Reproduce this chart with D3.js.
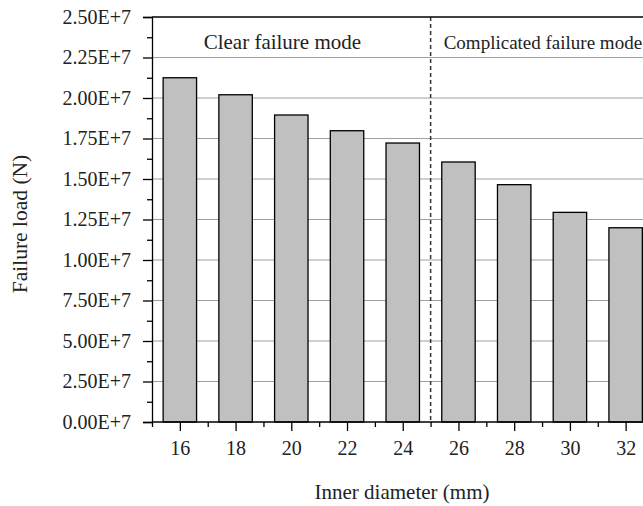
<!DOCTYPE html>
<html>
<head>
<meta charset="utf-8">
<script src="https://cdn.jsdelivr.net/npm/d3@7"></script>
<style>
  html, body { margin: 0; padding: 0; background: #fff; }
  svg { display: block; font-family: "Liberation Serif", "DejaVu Serif", serif; }
</style>
</head>
<body>
<script>
//chart data
var diameters = [16, 18, 20, 22, 24, 26, 28, 30, 32]; //inner diameter (mm)
var failureLoad = [21.25e6, 20.2e6, 18.95e6, 17.98e6, 17.22e6, 16.05e6, 14.65e6, 12.94e6, 11.99e6]; //failure load (N)
var yTickValues = [0, 2.5e6, 5e6, 7.5e6, 10e6, 12.5e6, 15e6, 17.5e6, 20e6, 22.5e6, 25e6];
var yTickLabels = ["0.00E+7", "2.50E+7", "5.00E+7", "7.50E+7", "1.00E+7", "1.25E+7", "1.50E+7", "1.75E+7", "2.00E+7", "2.25E+7", "2.50E+7"];
var xTickValues = [16, 18, 20, 22, 24, 26, 28, 30, 32];
var regionLabels = ["Clear failure mode", "Complicated failure mode"];
var regionLabelX = [19.68, 29.03];
var regionLabelSize = [21, 19];
var dividerX = 25;

(function(){

    var width = 643, height = 506;
    var left = 152, top = 17, bottom = 422;

    var svg = d3.select("body").append("svg")
        .attr("width", width)
        .attr("height", height);

    //scales
    var x = d3.scaleLinear().domain([15, 33]).range([left, 653.5]);
    var y = d3.scaleLinear().domain([0, 25e6]).range([bottom, top]);

    //grid lines behind the bars
    svg.append("g").selectAll("line")
        .data(yTickValues.slice(1, -1))
        .enter().append("line")
        .attr("x1", left).attr("x2", width)
        .attr("y1", function(d){ return y(d); })
        .attr("y2", function(d){ return y(d); })
        .attr("stroke", "#a0a0a0")
        .attr("stroke-width", 1.2);

    //bars
    var barW = x(16.6) - x(15.4);
    svg.append("g").selectAll("rect")
        .data(diameters)
        .enter().append("rect")
        .attr("x", function(d){ return x(d) - barW / 2; })
        .attr("y", function(d, i){ return y(failureLoad[i]); })
        .attr("width", barW)
        .attr("height", function(d, i){ return y(0) - y(failureLoad[i]); })
        .attr("fill", "#c0c0c0")
        .attr("stroke", "#000")
        .attr("stroke-width", 1.3);

    //dashed divider
    svg.append("line")
        .attr("x1", x(dividerX)).attr("x2", x(dividerX))
        .attr("y1", top).attr("y2", bottom)
        .attr("stroke", "#333")
        .attr("stroke-width", 1.5)
        .attr("stroke-dasharray", "4,3");

    //top frame
    svg.append("line")
        .attr("x1", left).attr("x2", width)
        .attr("y1", top).attr("y2", top)
        .attr("stroke", "#000")
        .attr("stroke-width", 1.3);

    //y axis
    var yAxis = d3.axisLeft(y)
        .tickValues(yTickValues)
        .tickSize(9)
        .tickPadding(12)
        .tickFormat(function(d, i){ return yTickLabels[i]; });
    var gy = svg.append("g")
        .attr("transform", "translate(" + left + ",0)")
        .call(yAxis);
    gy.select(".domain").attr("stroke-width", 1.3);
    gy.selectAll(".tick line").attr("stroke-width", 1.3);
    gy.selectAll("text").attr("font-size", 20).attr("fill", "#222")
        .attr("font-family", "Liberation Serif");

    //y minor ticks
    var yMinor = d3.axisLeft(y)
        .tickValues(yTickValues.slice(0, -1).map(function(d){ return d + 1.25e6; }))
        .tickSize(5)
        .tickFormat("");
    var gym = svg.append("g")
        .attr("transform", "translate(" + left + ",0)")
        .call(yMinor);
    gym.select(".domain").remove();
    gym.selectAll(".tick line").attr("stroke-width", 1.3);

    //x axis
    var xAxis = d3.axisBottom(x)
        .tickValues(xTickValues)
        .tickSize(9)
        .tickPadding(10)
        .tickFormat(d3.format("d"));
    var gx = svg.append("g")
        .attr("transform", "translate(0," + bottom + ")")
        .call(xAxis);
    gx.select(".domain").attr("stroke-width", 1.3).attr("d", "M" + left + ",0H" + width);
    gx.selectAll(".tick line").attr("stroke-width", 1.3);
    gx.selectAll("text").attr("font-size", 20).attr("fill", "#222")
        .attr("font-family", "Liberation Serif");

    //x minor ticks
    var xMinor = d3.axisBottom(x)
        .tickValues(xTickValues.map(function(d){ return d - 1; }).concat([33]))
        .tickSize(5)
        .tickFormat("");
    var gxm = svg.append("g")
        .attr("transform", "translate(0," + bottom + ")")
        .call(xMinor);
    gxm.select(".domain").remove();
    gxm.selectAll(".tick line").attr("stroke-width", 1.3);

    //region labels
    svg.append("g").selectAll("text")
        .data(regionLabels)
        .enter().append("text")
        .attr("x", function(d, i){ return x(regionLabelX[i]); })
        .attr("y", 49)
        .attr("text-anchor", "middle")
        .attr("font-size", function(d, i){ return regionLabelSize[i]; })
        .attr("fill", "#222")
        .text(function(d){ return d; });

    //axis titles
    svg.append("text")
        .attr("x", 402)
        .attr("y", 499)
        .attr("text-anchor", "middle")
        .attr("font-size", 21)
        .attr("fill", "#222")
        .text("Inner diameter (mm)");

    svg.append("text")
        .attr("transform", "translate(27,224) rotate(-90)")
        .attr("text-anchor", "middle")
        .attr("font-size", 21.5)
        .attr("fill", "#222")
        .text("Failure load (N)");
})();
</script>
</body>
</html>
